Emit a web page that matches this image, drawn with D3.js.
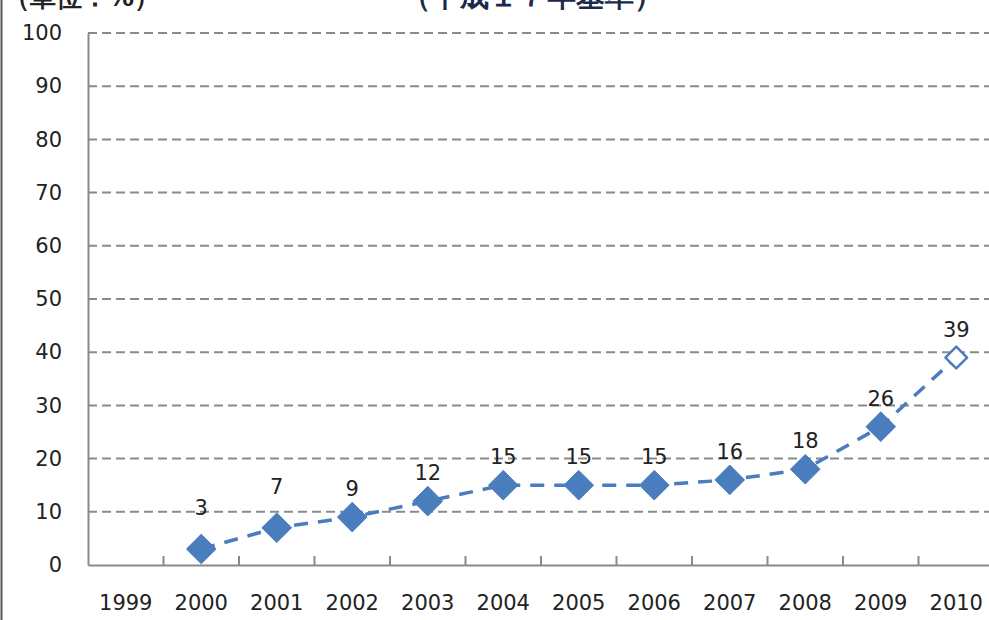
<!DOCTYPE html>
<html>
<head>
<meta charset="utf-8">
<script src="https://cdn.jsdelivr.net/npm/d3@7"></script>
<style>
  body { margin: 0; background: #fff; }
  svg { display: block; font-family: "DejaVu Sans", sans-serif; }
</style>
</head>
<body>
<svg id="chart" width="989" height="620"></svg>
<script>
const years = ['1999', '2000', '2001', '2002', '2003', '2004', '2005', '2006', '2007', '2008', '2009', '2010'];
const values = [null, 3, 7, 9, 12, 15, 15, 15, 16, 18, 26, 39];
const yTicks = [0, 10, 20, 30, 40, 50, 60, 70, 80, 90, 100];
const unitLabel = '（単位：%）';
const titleLabel = '（平成１７年基準）';

const svg = d3.select('#chart');
const blue = '#4a7dbd';

const x = d3.scaleBand().domain(years).range([88, 994]);
const y = d3.scaleLinear().domain([0, 100]).range([565, 33]);

// frame line on the left edge
svg.append('line')
    .attr('x1', 1.5).attr('x2', 1.5).attr('y1', 0).attr('y2', 620)
    .attr('stroke', '#555').attr('stroke-width', 2);

// top texts (cut off by the picture's top edge)
svg.append('text')
    .attr('x', 4).attr('y', 6)
    .attr('font-size', 26).attr('font-weight', 'bold').attr('fill', '#222')
    .text(unitLabel);
svg.append('text')
    .attr('x', 532).attr('y', 6)
    .attr('text-anchor', 'middle')
    .attr('font-size', 29).attr('font-weight', 'bold').attr('fill', '#1a2a4a')
    .text(titleLabel);

// gridlines
svg.append('g')
    .selectAll('line')
    .data(yTicks.filter(d => d > 0))
    .join('line')
    .attr('x1', 88).attr('x2', 989)
    .attr('y1', d => y(d)).attr('y2', d => y(d))
    .attr('stroke', '#8a8a8a').attr('stroke-width', 2)
    .attr('stroke-dasharray', '9,5');

// y axis
const yAxis = svg.append('g')
    .attr('transform', 'translate(88,0)')
    .call(d3.axisLeft(y).tickValues(yTicks).tickSize(0).tickPadding(26));
yAxis.select('.domain').attr('stroke', '#8a8a8a').attr('stroke-width', 2);
yAxis.selectAll('text')
    .attr('font-size', 21).attr('fill', '#222')
    .attr('font-family', '"DejaVu Sans", sans-serif');

// x axis
const xAxis = svg.append('g')
    .attr('transform', 'translate(0,565)')
    .call(d3.axisBottom(x).tickSize(0).tickPadding(30));
xAxis.select('.domain').attr('stroke', '#8a8a8a').attr('stroke-width', 2);
xAxis.selectAll('text')
    .attr('font-size', 21).attr('fill', '#222')
    .attr('font-family', '"DejaVu Sans", sans-serif');

// tick marks between categories
svg.append('g')
    .selectAll('line')
    .data(years.slice(1))
    .join('line')
    .attr('x1', d => x(d)).attr('x2', d => x(d))
    .attr('y1', 565).attr('y2', 556)
    .attr('stroke', '#8a8a8a').attr('stroke-width', 2);

const pts = years.map((yr, i) => ({ year: yr, value: values[i] })).filter(d => d.value !== null);
const cx = d => x(d.year) + x.bandwidth() / 2;

const line = d3.line().x(cx).y(d => y(d.value));

svg.append('path')
    .datum(pts)
    .attr('d', line)
    .attr('fill', 'none')
    .attr('stroke', blue).attr('stroke-width', 3.5)
    .attr('stroke-dasharray', '14,10');

const last = pts.length - 1;

svg.append('g')
    .selectAll('path')
    .data(pts)
    .join('path')
    .attr('transform', d => `translate(${cx(d)},${y(d.value)})`)
    .attr('d', (d, i) => i === last
        ? d3.symbol(d3.symbolDiamond2, 300)()
        : d3.symbol(d3.symbolDiamond2, 560)())
    .attr('fill', (d, i) => i === last ? '#fff' : blue)
    .attr('stroke', blue)
    .attr('stroke-width', (d, i) => i === last ? 2.5 : 1)
    .attr('stroke-linejoin', 'round');

// data labels
svg.append('g')
    .selectAll('text')
    .data(pts)
    .join('text')
    .attr('x', cx)
    .attr('y', d => y(d.value) - (d.value < 8 ? 34 : 21))
    .attr('text-anchor', 'middle')
    .attr('font-size', 21).attr('fill', '#222')
    .text(d => d.value);
</script>
</body>
</html>
